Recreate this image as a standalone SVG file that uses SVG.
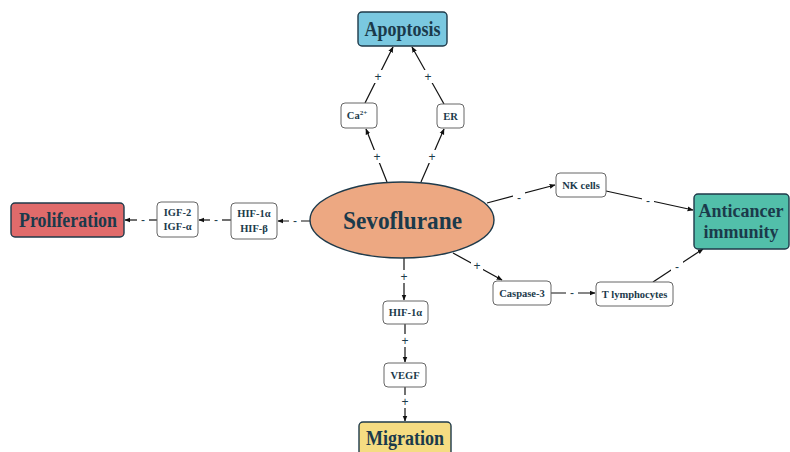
<svg xmlns="http://www.w3.org/2000/svg" width="790" height="452" viewBox="0 0 790 452">
<defs>
<marker id="ah" viewBox="0 0 10 10" refX="9" refY="5" markerWidth="6" markerHeight="6" orient="auto-start-reverse" markerUnits="userSpaceOnUse">
<path d="M0,1 L10,5 L0,9 z" fill="#111"/>
</marker>
<style>
.big{font-family:"Liberation Serif",serif;font-weight:bold;fill:#1b3a4b;text-anchor:middle}
.sm{font-family:"Liberation Serif",serif;font-weight:bold;font-size:10.5px;fill:#1b3a4b;text-anchor:middle}
.box{fill:#fff;stroke:#666;stroke-width:1}
.main{stroke:#1f3a4a;stroke-width:1.4}
.c{stroke:#111;stroke-width:1.2;fill:none;marker-end:url(#ah)}
.lb{font-family:"Liberation Sans",sans-serif;font-size:12px;fill:#1b3a4b;text-anchor:middle}
.bg{fill:#fff}
</style>
</defs>
<rect width="790" height="452" fill="#fff"/>
<g id="connectors">
<line class="c" x1="387" y1="182" x2="366" y2="129"/>
<line class="c" x1="421" y1="182" x2="444" y2="129"/>
<line class="c" x1="365" y1="103" x2="393" y2="47"/>
<line class="c" x1="444" y1="104" x2="412" y2="47"/>
<line class="c" x1="311" y1="221" x2="278" y2="221"/>
<line class="c" x1="231" y1="220" x2="199" y2="220"/>
<line class="c" x1="157" y1="220" x2="125" y2="220"/>
<line class="c" x1="487" y1="203" x2="555" y2="185"/>
<line class="c" x1="606" y1="191" x2="693" y2="210"/>
<line class="c" x1="453" y1="253" x2="502" y2="280"/>
<line class="c" x1="551" y1="293" x2="595" y2="293"/>
<line class="c" x1="653" y1="282" x2="703" y2="249"/>
<line class="c" x1="404" y1="258" x2="404" y2="300"/>
<line class="c" x1="405" y1="324" x2="405" y2="362"/>
<line class="c" x1="405" y1="387" x2="405" y2="421"/>
<g id="labels">
<rect class="bg" x="372" y="70" width="12" height="13"/><text class="lb" x="378" y="81">+</text>
<rect class="bg" x="422" y="70" width="12" height="13"/><text class="lb" x="428" y="81">+</text>
<rect class="bg" x="371" y="150" width="12" height="13"/><text class="lb" x="377" y="161">+</text>
<rect class="bg" x="426" y="150" width="12" height="13"/><text class="lb" x="432" y="161">+</text>
<rect class="bg" x="289" y="215" width="12" height="12"/><text class="lb" x="295" y="225">-</text>
<rect class="bg" x="210" y="214" width="12" height="12"/><text class="lb" x="216" y="224">-</text>
<rect class="bg" x="137" y="214" width="12" height="12"/><text class="lb" x="143" y="224">-</text>
<rect class="bg" x="513" y="192" width="12" height="12"/><text class="lb" x="519" y="202">-</text>
<rect class="bg" x="642" y="195" width="12" height="12"/><text class="lb" x="648" y="205">-</text>
<rect class="bg" x="471" y="259" width="12" height="13"/><text class="lb" x="477" y="270">+</text>
<rect class="bg" x="566" y="287" width="12" height="12"/><text class="lb" x="572" y="297">-</text>
<rect class="bg" x="671" y="261" width="12" height="12"/><text class="lb" x="677" y="271">-</text>
<rect class="bg" x="398" y="270" width="12" height="13"/><text class="lb" x="404" y="281">+</text>
<rect class="bg" x="399" y="334" width="12" height="13"/><text class="lb" x="405" y="345">+</text>
<rect class="bg" x="399" y="395" width="12" height="13"/><text class="lb" x="405" y="406">+</text>
</g>
</g>
<g id="apoptosis"><rect class="main" x="358" y="12" width="89" height="34" rx="4" fill="#7ac8e0"/><text class="big" x="402.5" y="36" font-size="20" textLength="76" lengthAdjust="spacingAndGlyphs">Apoptosis</text></g>
<g id="ca"><rect class="box" x="341" y="103" width="36" height="25" rx="4"/><text class="sm" x="357" y="119">Ca<tspan font-size="7" dy="-4">2+</tspan></text></g>
<g id="er"><rect class="box" x="437" y="104" width="27" height="24" rx="4"/><text class="sm" x="450.5" y="120">ER</text></g>
<g id="sevoflurane"><ellipse class="main" cx="402" cy="220" rx="92" ry="38" fill="#eda882"/><text class="big" x="402.5" y="229" font-size="26" textLength="119" lengthAdjust="spacingAndGlyphs">Sevoflurane</text></g>
<g id="proliferation"><rect class="main" x="11" y="203" width="113" height="34" rx="4" fill="#e06b6b"/><text class="big" x="68" y="227" font-size="20" textLength="98" lengthAdjust="spacingAndGlyphs">Proliferation</text></g>
<g id="igf"><rect class="box" x="157" y="202" width="41" height="35" rx="4"/><text class="sm" x="177.5" y="216">IGF-2</text><text class="sm" x="177.5" y="230">IGF-α</text></g>
<g id="hif"><rect class="box" x="231" y="203" width="46" height="36" rx="4"/><text class="sm" x="254" y="217">HIF-1α</text><text class="sm" x="254" y="232">HIF-β</text></g>
<g id="nk"><rect class="box" x="556" y="173" width="50" height="24" rx="4"/><text class="sm" x="581" y="189">NK cells</text></g>
<g id="anticancer"><rect class="main" x="694" y="194" width="95" height="55" rx="4" fill="#52bfaa"/><text class="big" x="741" y="217" font-size="18">Anticancer</text><text class="big" x="741" y="238" font-size="18">immunity</text></g>
<g id="caspase"><rect class="box" x="493" y="281" width="58" height="24" rx="4"/><text class="sm" x="522" y="297">Caspase-3</text></g>
<g id="tlymph"><rect class="box" x="596" y="282" width="77" height="24" rx="4"/><text class="sm" x="634.5" y="298">T lymphocytes</text></g>
<g id="hif1a"><rect class="box" x="383" y="301" width="45" height="23" rx="4"/><text class="sm" x="405.5" y="316">HIF-1α</text></g>
<g id="vegf"><rect class="box" x="384" y="363" width="42" height="24" rx="4"/><text class="sm" x="405" y="379">VEGF</text></g>
<g id="migration"><rect class="main" x="359" y="422" width="92" height="36" rx="4" fill="#f5dc82"/><text class="big" x="405" y="445" font-size="20" textLength="78" lengthAdjust="spacingAndGlyphs">Migration</text></g>
</svg>
